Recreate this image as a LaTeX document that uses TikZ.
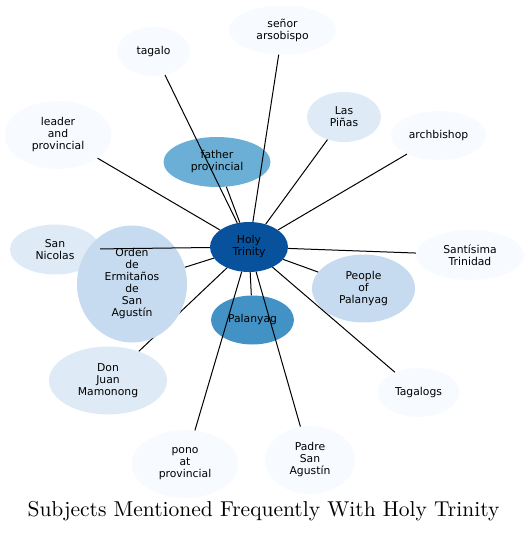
\documentclass[tikz,border=0pt]{standalone}
\usepackage{fontspec}
\newfontfamily\labelfont{DejaVu Sans}
\newfontfamily\titlefont{lmroman10-regular}[Extension=.otf]
\usetikzlibrary{shapes.geometric}
\definecolor{hub}{HTML}{08519C}
\definecolor{strong}{HTML}{4292C6}
\definecolor{medium}{HTML}{6BAED6}
\definecolor{light}{HTML}{C6DBEF}
\definecolor{pale}{HTML}{DEEBF7}
\definecolor{faint}{HTML}{F7FBFF}
\begin{document}
\begin{tikzpicture}[x=1pt,y=-1pt,
  topic/.style={ellipse,inner sep=0pt,align=center,text=black,
    font=\labelfont\fontsize{10.8}{12}\selectfont},
  link/.style={line width=1pt}]
  \useasboundingbox (0,0) rectangle (529,533);
  \node[topic,fill=hub,minimum width=78pt,minimum height=50pt] (holy) at (249,247) {Holy\\Trinity};
  \node[topic,fill=faint,minimum width=107pt,minimum height=49pt] (senor) at (282.5,30) {señor\\arsobispo};
  \node[topic,fill=faint,minimum width=73pt,minimum height=49pt] (tagalo) at (153.5,51.5) {tagalo};
  \node[topic,fill=faint,minimum width=107pt,minimum height=68pt] (leader) at (58,135) {leader\\and\\provincial};
  \node[topic,fill=medium,minimum width=107pt,minimum height=50pt] (father) at (217,162) {father\\provincial};
  \node[topic,fill=pale,minimum width=74pt,minimum height=50pt] (pinas) at (344,117) {Las\\Piñas};
  \node[topic,fill=faint,minimum width=95pt,minimum height=49pt] (arch) at (438.5,135.5) {archbishop};
  \node[topic,fill=faint,minimum width=108pt,minimum height=50pt] (trinidad) at (470,255) {Santísima\\Trinidad};
  \node[topic,fill=pale,minimum width=90pt,minimum height=50pt] (nicolas) at (55,249.5) {San\\Nicolas};
  \node[topic,fill=light,minimum width=103pt,minimum height=68pt] (people) at (363.5,288.5) {People\\of\\Palanyag};
  \node[topic,fill=strong,minimum width=83pt,minimum height=49pt] (palanyag) at (252.5,320) {Palanyag};
  \node[topic,fill=pale,minimum width=118pt,minimum height=68pt] (juan) at (108,380.5) {Don\\Juan\\Mamonong};
  \node[topic,fill=faint,minimum width=82pt,minimum height=49pt] (tagalogs) at (418.5,392.5) {Tagalogs};
  \node[topic,fill=faint,minimum width=107pt,minimum height=68pt] (pono) at (185,464) {pono\\at\\provincial};
  \node[topic,fill=faint,minimum width=90pt,minimum height=68pt] (padre) at (310,460) {Padre\\San\\Agustín};
  \draw[link] (holy) -- (juan);
  \node[topic,fill=light,minimum width=110pt,minimum height=117pt] (orden) at (132,284) {Orden\\de\\Ermitaños\\de\\San\\Agustín};
  \foreach \n in {senor,tagalo,leader,father,pinas,arch,trinidad,nicolas,orden,people,palanyag,tagalogs,pono,padre}
    \draw[link] (holy) -- (\n);
  \node (title) at (263.5,511) {\titlefont\fontsize{21.5}{26}\selectfont Subjects Mentioned Frequently With Holy Trinity};
\end{tikzpicture}
\end{document}
